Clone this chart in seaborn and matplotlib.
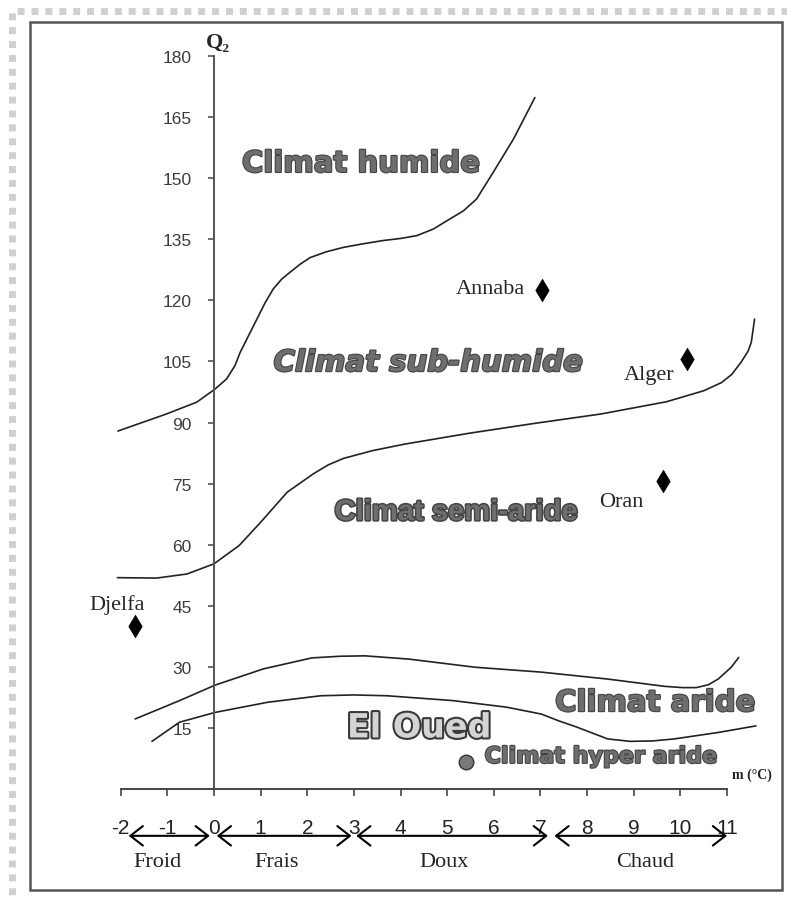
import numpy as np
import pandas as pd
import matplotlib
matplotlib.use("Agg")
import matplotlib.pyplot as plt
import matplotlib.patheffects as pe
from matplotlib.patches import Rectangle
import seaborn as sns

lim_humide_m = [-2.06, -1.02, -0.37, 0.02, 0.27, 0.45, 0.56, 0.92, 1.1, 1.27, 1.45, 1.63,
                1.85, 2.06, 2.4, 2.77, 3.2, 3.63, 4.0, 4.35, 4.7, 5.06, 5.35, 5.63,
                5.99, 6.42, 6.88]
lim_humide_q = [87.9, 92.1, 95.0, 98.2, 100.7, 104.0, 107.2, 115.4, 119.5, 122.8, 125.2,
                126.9, 128.9, 130.5, 131.9, 133.0, 133.9, 134.7, 135.2, 135.9, 137.5,
                140.0, 142.0, 144.9, 151.5, 159.6, 169.8]

lim_subhumide_m = [-2.07, -1.23, -0.58, 0.0, 0.54, 1.0, 1.57, 2.13, 2.45, 2.78, 3.4, 4.09,
                   5.49, 6.88, 8.3, 9.7, 10.5, 10.88, 11.1, 11.3, 11.45, 11.52, 11.59]
lim_subhumide_q = [51.9, 51.8, 52.8, 55.3, 59.8, 65.5, 72.9, 77.4, 79.6, 81.2, 83.1, 84.7,
                   87.4, 89.8, 92.1, 95.1, 97.8, 99.8, 101.8, 104.8, 107.5, 109.7, 115.4]

lim_semiaride_m = [-1.69, -0.74, 0.02, 1.06, 2.10, 2.7, 3.24, 4.18, 5.60, 7.02, 8.44,
                   9.67, 10.05, 10.34, 10.6, 10.81, 11.09, 11.25]
lim_semiaride_q = [17.2, 21.7, 25.5, 29.5, 32.2, 32.6, 32.7, 31.9, 29.9, 28.7, 27.0,
                   25.2, 24.9, 24.9, 25.6, 27.0, 29.9, 32.3]

lim_aride_m = [-1.33, -0.74, 0.02, 1.15, 2.29, 3.0, 3.71, 5.13, 6.27, 7.02, 7.4, 7.78,
               8.44, 8.92, 9.4, 9.87, 10.82, 11.62]
lim_aride_q = [11.7, 16.4, 18.8, 21.3, 22.9, 23.1, 22.9, 21.7, 20.1, 18.4, 16.7, 15.2,
               12.3, 11.7, 11.8, 12.3, 13.9, 15.5]

# Stations
stations = ["Annaba", "Alger", "Oran", "Djelfa"]
stations_m = [7.03, 10.14, 9.63, -1.69]
stations_q = [122.5, 105.6, 75.6, 40.1]
eloued_m = [5.4]
eloued_q = [6.6]

# Axes et zones thermiques
q_ticks = list(range(15, 181, 15))
m_ticks = list(range(-2, 12))
zones = ["Froid", "Frais", "Doux", "Chaud"]
zones_debut = [-1.83, 0.06, 3.05, 7.3]
zones_fin = [-0.09, 2.95, 7.16, 11.0]
zones_centre = [-1.21, 1.34, 4.94, 9.24]


def tableau_limites():
    parts = []
    for nom, m, q in [("humide", lim_humide_m, lim_humide_q),
                      ("subhumide", lim_subhumide_m, lim_subhumide_q),
                      ("semiaride", lim_semiaride_m, lim_semiaride_q),
                      ("aride", lim_aride_m, lim_aride_q)]:
        parts.append(pd.DataFrame({"m": m, "Q": q, "limite": nom}))
    return pd.concat(parts, ignore_index=True)


sns.set_theme(style="white")
plt.rcParams["font.family"] = ["Liberation Sans", "DejaVu Sans"]
plt.rcParams["axes.unicode_minus"] = False

fig = plt.figure(figsize=(7.87, 9.03), dpi=100)
ax = fig.add_axes([0, 0, 1, 1])

# lignes limites
df = tableau_limites()
sns.lineplot(data=df, x="m", y="Q", units="limite", estimator=None, sort=False,
             color="#222222", lw=1.2, ax=ax, solid_joinstyle="round")

# stations
sns.scatterplot(x=stations_m, y=stations_q, marker="d", s=130, color="black",
                edgecolor="black", linewidth=0.5, ax=ax, zorder=5)
sns.scatterplot(x=eloued_m, y=eloued_q, marker="o", s=110, color="#7a7a7a",
                edgecolor="#333333", linewidth=1.0, ax=ax, zorder=5)

# echelle en pixels : x=0 a 214 px, 46.64 px par degre ; Q=0 a 790 px, 4.072 px par unite
ax.set_xlim(-214 / 46.64, (787 - 214) / 46.64)
ax.set_ylim((790 - 903) / 4.072, 790 / 4.072)
ax.set_xlabel("")
ax.set_ylabel("")
ax.grid(False)

for s in ["top", "right"]:
    ax.spines[s].set_visible(False)
ax.spines["left"].set_position(("data", 0))
ax.spines["bottom"].set_position(("data", 0))
ax.spines["left"].set_bounds(0, 180)
ax.spines["bottom"].set_bounds(-2, 11)
ax.spines["left"].set_color("#555555")
ax.spines["bottom"].set_color("#444444")
ax.spines["left"].set_linewidth(1.4)
ax.spines["bottom"].set_linewidth(1.4)

ax.set_yticks(q_ticks)
ax.set_xticks(m_ticks)
ax.tick_params(axis="y", direction="out", length=4, width=1.2, color="#555555",
               pad=12, labelsize=12.5, labelcolor="#3c3c3c", left=True)
ax.tick_params(axis="x", direction="out", length=5, width=1.2, color="#444444",
               pad=16, labelsize=15, labelcolor="#222222", bottom=True)

# Q2
ax.text(0.09, 183.4, "Q₂", fontsize=16, fontweight="bold",
        family=["Liberation Serif", "DejaVu Serif"], ha="center", va="center")

# noms des stations
serif = ["Liberation Serif", "DejaVu Serif"]
ax.text(6.67, 123.0, "Annaba", fontsize=16, family=serif, ha="right", va="center")
ax.text(9.88, 101.9, "Alger", fontsize=16, family=serif, ha="right", va="center")
ax.text(9.20, 70.7, "Oran", fontsize=16, family=serif, ha="right", va="center")
ax.text(-2.08, 45.4, "Djelfa", fontsize=16, family=serif, ha="center", va="center")

# etages bioclimatiques
contour = [pe.withStroke(linewidth=1.6, foreground="#444444")]
gris = "#6e6e6e"
ax.text(3.15, 153.5, "Climat humide", fontsize=21, fontweight="bold", color=gris,
        family="DejaVu Sans", ha="center", va="center", path_effects=contour)
ax.text(4.59, 104.6, "Climat sub-humide", fontsize=21, fontweight="bold",
        style="italic", color=gris, family="DejaVu Sans", ha="center", va="center",
        path_effects=contour)
ax.text(5.19, 68.0, "Climat semi-aride", fontsize=21, fontweight="bold", color=gris,
        family=["Liberation Sans", "DejaVu Sans"], ha="center", va="center",
        path_effects=[pe.withStroke(linewidth=2.2, foreground="#444444")])
ax.text(9.46, 21.1, "Climat aride", fontsize=21, fontweight="bold", color=gris,
        family="DejaVu Sans", ha="center", va="center", path_effects=contour)
ax.text(4.40, 15.0, "El Oued", fontsize=24, fontweight="bold", color="#d4d4d4",
        family="DejaVu Sans", ha="center", va="center",
        path_effects=[pe.withStroke(linewidth=3, foreground="#3a3a3a")])
ax.text(8.30, 7.9, "Climat hyper aride", fontsize=16, fontweight="bold", color=gris,
        family="DejaVu Sans", ha="center", va="center", path_effects=contour)
ax.text(11.54, 3.6, "m (°C)", fontsize=10, family=serif, fontweight="bold",
        ha="center", va="center", color="#222222")

# zones thermiques
for nom, a, b, c in zip(zones, zones_debut, zones_fin, zones_centre):
    ax.annotate("", xy=(b, -11.5), xytext=(a, -11.5),
                arrowprops=dict(arrowstyle="<->,head_length=0.45,head_width=0.35",
                                lw=1.5, color="black", mutation_scale=20,
                                shrinkA=0, shrinkB=0))
    ax.text(c, -17.9, nom, fontsize=16, family=serif, ha="center", va="center",
            color="#222222")

# cadre
fig.patches.append(Rectangle((12 / 787, -0.02), 1.05, 1 - 12 / 903 + 0.02,
                             transform=fig.transFigure, fill=False,
                             edgecolor="#d0d0d0", lw=5, ls=(0, (1, 1))))
fig.patches.append(Rectangle((30 / 787, 1 - 891 / 903), (782 - 30) / 787,
                             (891 - 23) / 903, transform=fig.transFigure,
                             fill=False, edgecolor="#555555", lw=1.8))

fig.savefig("out.png", dpi=100)
